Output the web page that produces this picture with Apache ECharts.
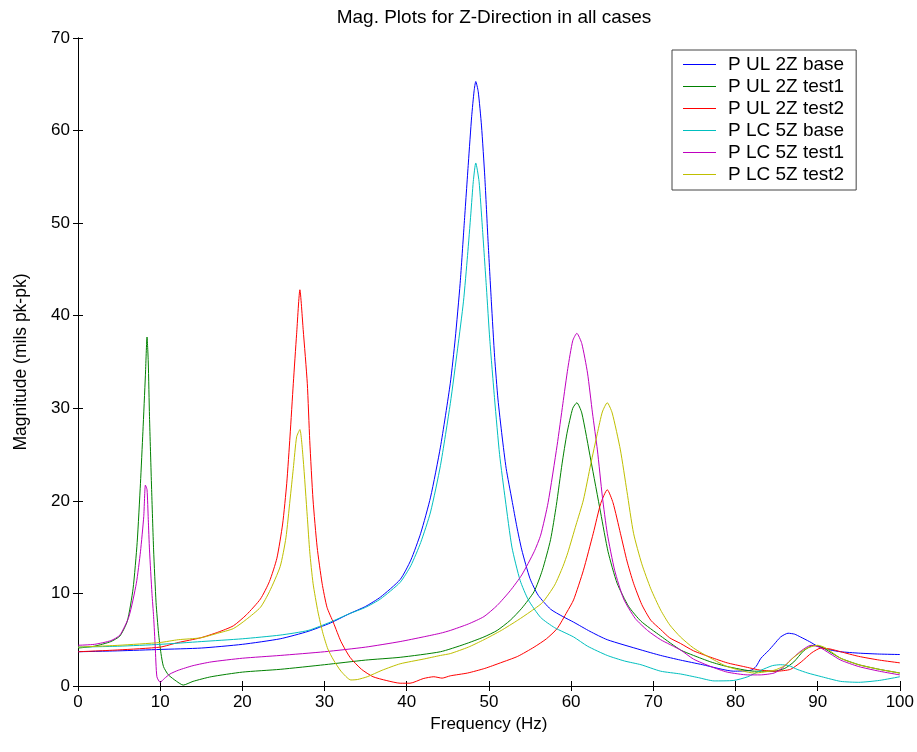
<!DOCTYPE html>
<html>
<head>
<meta charset="utf-8">
<script src="https://cdn.jsdelivr.net/npm/echarts@6/dist/echarts.min.js"></script>
<style>html,body{margin:0;padding:0;background:#fff;}#c{width:917px;height:752px;}</style>
</head>
<body>
<div id="c"></div>
<script>
const seriesNames = ['P UL 2Z base','P UL 2Z test1','P UL 2Z test2','P LC 5Z base','P LC 5Z test1','P LC 5Z test2'];
const xTicks = [0,10,20,30,40,50,60,70,80,90,100];
const yTicks = [0,10,20,30,40,50,60,70];

const ulBase = [[0,3.7],[5,3.8],[10,3.95],[15,4.1],[20,4.5],[24.6,5.1],[28,5.9],[30.7,6.8],[33,7.8],[35,8.6],[36.8,9.6],[39.2,11.5],[40.5,13.6],[41.7,16.5],[42.9,20.4],[44.1,25.8],[45.3,32.7],[45.9,37.5],[46.5,43.5],[47.0,50],[47.5,56.5],[47.9,61.5],[48.2,64.3],[48.4,65.3],[48.7,64.2],[49.1,60.5],[49.5,55],[49.9,48],[50.3,41.5],[50.7,35.5],[51.1,31.0],[51.6,27],[52.1,23.5],[52.8,20.1],[53.4,17.2],[54.0,14.7],[55.0,11.6],[56.0,9.8],[57.5,8.3],[59,7.5],[60.3,6.9],[62.3,5.9],[64.4,5.0],[68.5,3.9],[70.9,3.3],[73.3,2.8],[76,2.3],[79.8,1.6],[81.9,1.7],[82.5,2.1],[83.1,3.0],[84,3.8],[84.7,4.5],[85.5,5.3],[86.4,5.7],[87.2,5.6],[87.9,5.3],[89,4.8],[90,4.3],[91.5,3.9],[92.8,3.7],[95,3.55],[97.5,3.45],[100,3.4]];

const ulTest1 = [[0,4.1],[2,4.3],[4,4.8],[5.1,5.4],[6,7.0],[6.7,10.5],[7.2,15.5],[7.6,21.9],[7.9,27.5],[8.2,33.5],[8.4,37.7],[8.55,35],[8.7,29.1],[8.95,21.5],[9.2,14.7],[9.5,9.0],[9.8,5.7],[10.1,3.5],[10.4,2.1],[11,1.2],[12,0.5],[12.8,0.1],[14,0.5],[16.2,1.0],[20,1.5],[24.6,1.8],[30,2.3],[35,2.8],[39.2,3.1],[44.1,3.7],[47,4.5],[49.4,5.3],[51,6.0],[52.6,7.1],[54,8.4],[55.5,10.2],[56.5,12.5],[57.5,15.8],[58.2,19.5],[58.9,24],[59.5,27.3],[60.2,30],[60.7,30.6],[61.3,29.5],[62.4,24.4],[63.6,18.7],[64.5,14.5],[65.6,11.1],[67,8.6],[68.5,7.0],[70.9,5.4],[73.3,3.9],[74.9,3.3],[77,2.6],[79,2.1],[82.3,1.6],[84.7,1.6],[86,1.9],[87.1,2.6],[88.3,3.8],[89.5,4.4],[90.5,4.2],[92.8,3.0],[95,2.3],[97.5,1.8],[100,1.4]];

const ulTest2 = [[0,3.7],[5,3.9],[10,4.2],[12.2,4.7],[14.9,5.2],[17,5.8],[18.9,6.5],[20.5,7.7],[22.2,9.4],[23.3,11.3],[24.2,13.8],[24.9,17.5],[25.4,21.9],[25.8,27],[26.2,32.7],[26.6,38],[27.0,42.8],[27.4,38.5],[27.9,32.7],[28.2,26.5],[28.6,20.1],[29.1,15],[29.7,11.1],[30.3,8.5],[31.1,6.8],[32,4.8],[33.1,3.1],[34.5,1.8],[35.9,1.0],[37.5,0.6],[39.2,0.3],[40.4,0.3],[42,0.8],[43.3,1.0],[44.3,0.85],[45.3,1.1],[47.4,1.4],[49.5,1.9],[51.4,2.5],[53.5,3.2],[55.5,4.2],[57,5.1],[58.3,6.2],[59.5,8.0],[60.3,9.3],[61.5,12.5],[62.7,16.5],[63.6,19.7],[64.4,21.2],[65.1,19.8],[66.0,16.5],[66.8,13.5],[67.6,11.1],[68.6,8.8],[69.7,7.1],[70.9,6.1],[72,5.2],[73.3,4.6],[74.9,3.8],[77,3.1],[79,2.5],[81,2.1],[83.1,1.7],[85,1.6],[86.7,1.8],[88,2.6],[89.3,3.6],[90.4,4.1],[91.5,4.0],[92.8,3.7],[95,3.2],[97.5,2.8],[100,2.5]];

const lcBase = [[0,4.2],[5,4.3],[10,4.5],[15,4.8],[20,5.1],[24.6,5.5],[28,6.0],[30.7,6.9],[33,7.8],[35,8.5],[36.8,9.4],[39.2,11.2],[40.5,13.0],[41.7,15.5],[42.9,18.8],[44.1,23.8],[45.3,30.5],[46.2,36.5],[46.9,41.5],[47.4,46.5],[47.8,51],[48.1,54.5],[48.4,56.5],[48.8,54.5],[49.2,49.6],[49.7,43],[50.1,37.5],[50.7,30.9],[51.3,25],[52.0,20.1],[52.8,15.0],[53.8,11.4],[54.8,9.3],[56.3,7.4],[58,6.3],[60.3,5.3],[62,4.3],[64.4,3.3],[66.5,2.7],[68.5,2.3],[70.9,1.6],[73.3,1.3],[75.5,0.9],[77.4,0.55],[79.8,0.6],[81.5,1.0],[83.1,1.7],[84.5,2.2],[85.5,2.3],[86.5,2.2],[87.5,1.8],[88.8,1.4],[90.5,1.0],[92.8,0.5],[95,0.4],[97.5,0.6],[100,1.0]];

const lcTest1 = [[0,4.4],[2,4.5],[4,4.9],[5.1,5.5],[6.2,7.5],[7.1,11.1],[7.6,14.5],[8.0,18.3],[8.2,21.7],[8.4,21.2],[8.55,18],[8.7,14.7],[9.0,10],[9.2,7.5],[9.4,4.2],[9.6,1.0],[10.0,0.4],[10.5,0.8],[11.2,1.3],[12.2,1.7],[14,2.2],[16.2,2.6],[20,3.0],[24.6,3.3],[30,3.7],[35,4.2],[39.2,4.8],[42,5.3],[44.1,5.7],[45.3,6.0],[47.5,6.7],[49.4,7.5],[51,8.7],[52.6,10.3],[54,12.0],[55.5,14.5],[56.3,16.3],[57.2,19.8],[58.3,26],[59.0,30.5],[59.6,34.3],[60.2,37.3],[60.7,38.1],[61.3,37],[62.0,33.8],[62.6,29.5],[63.2,25.5],[63.8,20.5],[64.4,16.5],[65.3,12.5],[66.4,9.4],[67.8,7.3],[69.3,6.0],[70.9,5.0],[73.3,3.9],[74.9,2.9],[77,2.1],[79,1.5],[81.5,1.2],[83,1.2],[84.7,1.4],[85.8,2.0],[86.7,2.8],[88,3.8],[89.2,4.4],[90.2,4.2],[91.5,3.5],[92.8,2.8],[95,2.1],[97.5,1.6],[100,1.2]];

const lcTest2 = [[0,4.2],[5,4.4],[10,4.7],[12.2,5.0],[14.9,5.2],[17,5.7],[18.9,6.2],[20.5,7.2],[22.2,8.5],[23.3,10.2],[24.6,12.9],[25.3,16],[25.8,20.1],[26.2,23.5],[26.6,26.9],[27.0,27.7],[27.4,24.5],[27.9,18.3],[28.2,14.5],[28.6,11.1],[29.2,8.0],[29.8,5.7],[30.4,4.0],[31.1,2.8],[32,1.6],[33.2,0.65],[34,0.7],[35.2,1.0],[37,1.7],[39.2,2.4],[42,2.9],[44.1,3.3],[45.3,3.5],[47.5,4.2],[49.4,5.0],[51.5,6.0],[53.5,7.1],[55,8.0],[56.5,9.0],[58,10.9],[59,12.9],[59.6,14.4],[60.6,17.4],[61.5,20.1],[62.4,24],[63.2,27.3],[63.8,29.6],[64.4,30.6],[65.0,29.5],[66.0,25.5],[66.8,21],[67.6,16.5],[68.6,13.2],[69.7,10.5],[70.9,8.2],[72,6.6],[73.3,5.3],[74.9,4.1],[77,3.0],[79,2.1],[82.3,1.4],[84.7,1.7],[86,2.2],[87.1,3.1],[88.5,4.0],[90.0,4.4],[91,4.1],[92.8,3.0],[95,2.3],[97.5,1.8],[100,1.4]];

const seriesData = [ulBase, ulTest1, ulTest2, lcBase, lcTest1, lcTest2];
const colors = ['#0000ff','#008000','#ff0000','#00bfbf','#bf00bf','#bfbf00'];

const FONT = '"Liberation Sans", Arial, sans-serif';
const chart = echarts.init(document.getElementById('c'), null, {renderer:'canvas'});

const axisCommon = {
  type: 'value',
  axisLine: {show: true, lineStyle: {color: '#000', width: 1}},
  axisTick: {show: true, inside: true, length: 5, lineStyle: {color: '#000'}},
  splitLine: {show: false}
};

chart.setOption({
  animation: false,
  backgroundColor: '#fff',
  color: colors,
  title: {
    text: 'Mag. Plots for Z-Direction in all cases',
    left: 489, top: 3, textAlign: 'center',
    textStyle: {fontFamily: FONT, fontSize: 19, fontWeight: 'normal', color: '#000'}
  },
  grid: {left: 78, right: 17, top: 38, bottom: 66, containLabel: false},
  legend: {
    orient: 'vertical', left: 672, top: 50,
    padding: [5, 12, 6, 11],
    itemWidth: 33, itemHeight: 19, itemGap: 3,
    borderColor: '#444', borderWidth: 1, backgroundColor: '#fff',
    textStyle: {fontFamily: FONT, fontSize: 19, color: '#000', lineHeight: 19, padding: [0,0,0,7]},
    data: seriesNames.map((n, i) => ({name: n, icon: 'path://M0,0 L33,0 L33,1 L0,1 Z', itemStyle: {color: colors[i]}}))
  },
  xAxis: [
    Object.assign({}, axisCommon, {
      position: 'bottom', min: xTicks[0], max: xTicks[xTicks.length-1], interval: 10,
      name: 'Frequency (Hz)', nameLocation: 'middle', nameGap: 28,
      nameTextStyle: {fontFamily: FONT, fontSize: 17, color: '#000'},
      axisLabel: {fontFamily: FONT, fontSize: 17, color: '#000', margin: 8}
    }),
    Object.assign({}, axisCommon, {
      position: 'top', min: 0, max: 100, interval: 10, axisLabel: {show: false}
    })
  ],
  yAxis: [
    Object.assign({}, axisCommon, {
      position: 'left', min: yTicks[0], max: yTicks[yTicks.length-1], interval: 10,
      name: 'Magnitude (mils pk-pk)', nameLocation: 'middle', nameGap: 48,
      nameTextStyle: {fontFamily: FONT, fontSize: 17.5, color: '#000'},
      axisLabel: {fontFamily: FONT, fontSize: 17, color: '#000', margin: 8}
    }),
    Object.assign({}, axisCommon, {
      position: 'right', min: 0, max: 70, interval: 10, axisLabel: {show: false}
    })
  ],
  series: seriesNames.map((n, i) => ({
    name: n, type: 'line', data: seriesData[i],
    xAxisIndex: 0, yAxisIndex: 0,
    symbol: 'none', showSymbol: false,
    smooth: 0.2,
    lineStyle: {width: 1, color: colors[i]},
    itemStyle: {color: colors[i]}
  }))
});
</script>
</body>
</html>
